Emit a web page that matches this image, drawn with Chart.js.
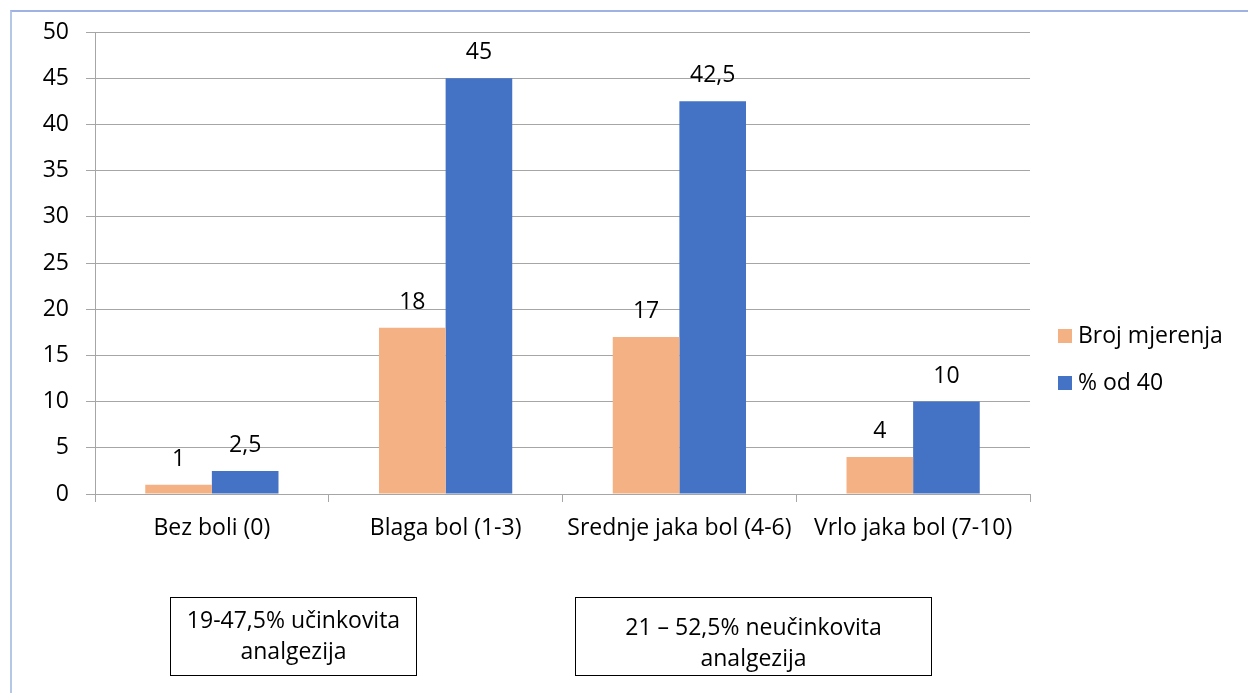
<!DOCTYPE html>
<html>
<head>
<meta charset="utf-8">
<script src="https://cdn.jsdelivr.net/npm/chart.js@4.4.0/dist/chart.umd.min.js"></script>
<style>
  html, body { margin: 0; padding: 0; background: #fff; }
  #wrap { position: relative; width: 1248px; height: 693px; overflow: hidden; font-family: "Open Sans", sans-serif; color: #000; }
  #frame { position: absolute; left: 10px; top: 10px; width: 1300px; height: 800px; border-left: 2px solid #b4c7e7; border-top: 2px solid #9fb2e3; }
  #chart { position: absolute; left: 0; top: 0; }
  .legend { position: absolute; left: 1058px; font-size: 23px; line-height: 28px; white-space: nowrap; }
  .legend span { display: inline-block; width: 14px; height: 14px; margin-right: 6px; vertical-align: 0px; }
  .box { position: absolute; border: 1px solid #000; text-align: center; font-size: 23px; line-height: 31px; box-sizing: border-box; }
</style>
</head>
<body>
<div id="wrap">
  <div id="frame"></div>
  <canvas id="chart" width="1248" height="693"></canvas>
  <div class="legend" style="top:320px"><span style="background:#F4B183"></span>Broj mjerenja</div>
  <div class="legend" style="top:367px"><span style="background:#4472C4"></span>% od 40</div>
  <div class="box" style="left:170px; top:597px; width:247px; height:79px; padding-top:6px">19-47,5% učinkovita<br>analgezija</div>
  <div class="box" style="left:575px; top:597px; width:357px; height:79px; padding-top:13px">21 – 52,5% neučinkovita<br>analgezija</div>
</div>
<script>
// Chart data
const categories = ['Bez boli (0)', 'Blaga bol (1-3)', 'Srednje jaka bol (4-6)', 'Vrlo jaka bol (7-10)'];
const brojMjerenja = [1, 18, 17, 4];
const postotak = [2.5, 45, 42.5, 10];
const seriesNames = ['Broj mjerenja', '% od 40'];

const fmt = (v) => String(v).replace('.', ',');

// Value labels above each bar
const valueLabels = {
    id: 'valueLabels',
    afterDatasetsDraw(chart) {
        const ctx = chart.ctx;
        ctx.save();
        ctx.font = '23px "Open Sans"';
        ctx.fillStyle = '#000';
        ctx.textAlign = 'center';
        ctx.textBaseline = 'alphabetic';
        chart.data.datasets.forEach((ds, i) => {
            chart.getDatasetMeta(i).data.forEach((bar, j) => {
                ctx.fillText(fmt(ds.data[j]), bar.x, bar.y - 19);
            });
        });
        ctx.restore();
    }
};

new Chart(document.getElementById('chart'), {
    type: 'bar',
    data: {
        labels: categories,
        datasets: [
            { label: seriesNames[0], data: brojMjerenja, backgroundColor: '#F4B183' },
            { label: seriesNames[1], data: postotak, backgroundColor: '#4472C4' }
        ]
    },
    options: {
        responsive: false,
        animation: false,
        layout: { padding: { left: 10, top: 32, right: 218, bottom: 0 } },
        datasets: { bar: { categoryPercentage: 0.57, barPercentage: 1 } },
        plugins: {
            legend: { display: false },
            tooltip: { enabled: false }
        },
        scales: {
            x: {
                grid: { offset: true, drawOnChartArea: false, tickLength: 8, color: '#a6a6a6' },
                border: { color: '#a6a6a6' },
                ticks: { color: '#000', font: { family: 'Open Sans', size: 23 }, padding: 13 },
                afterFit: (s) => { s.height = 199; }
            },
            y: {
                min: 0, max: 50,
                ticks: { stepSize: 5, color: '#000', font: { family: 'Open Sans', size: 23 }, padding: 17 },
                grid: { color: '#a6a6a6', tickLength: 9 },
                border: { color: '#a6a6a6' },
                afterFit: (s) => { s.width = 85; }
            }
        }
    },
    plugins: [valueLabels]
});
</script>
</body>
</html>
